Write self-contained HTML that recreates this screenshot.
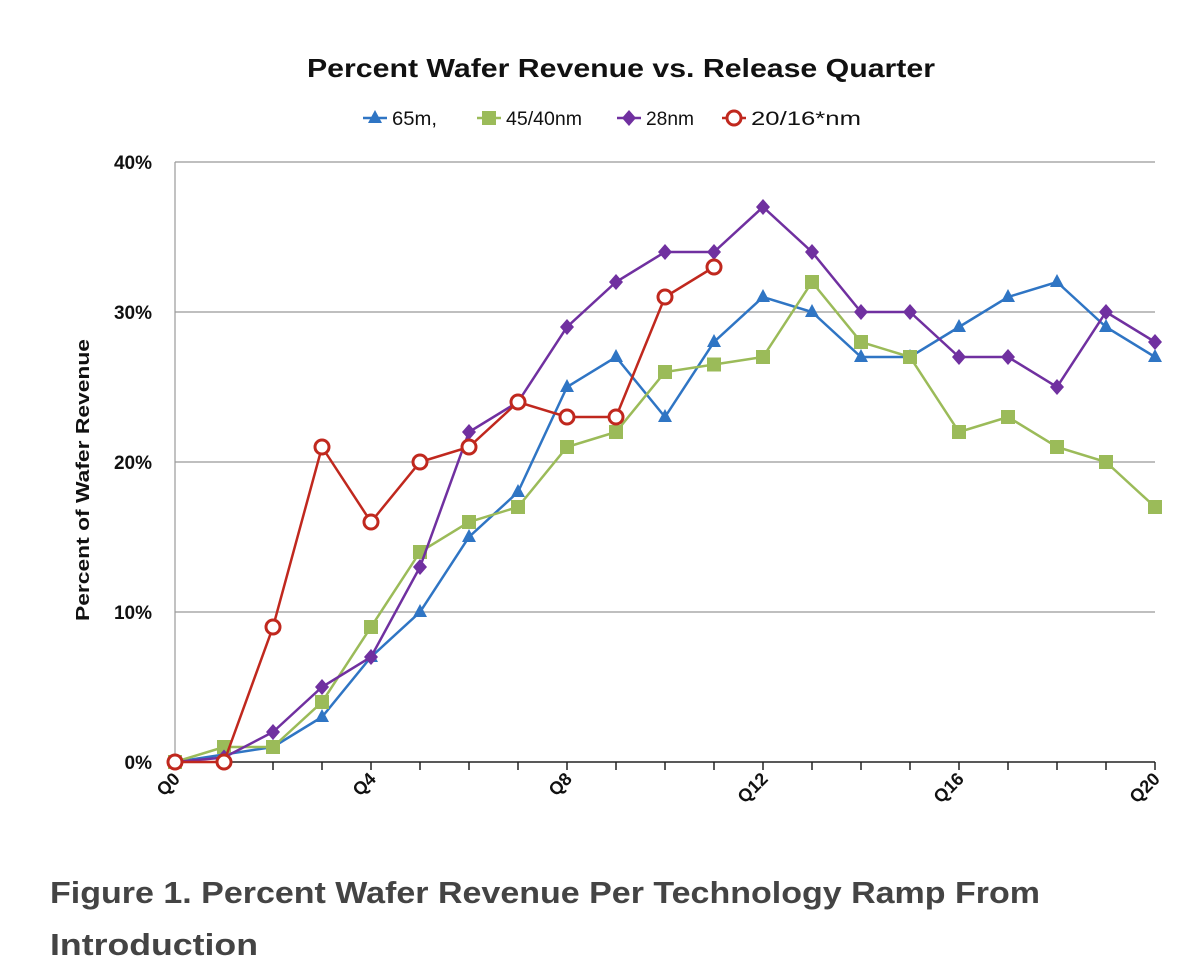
<!DOCTYPE html>
<html><head><meta charset="utf-8"><style>
body{margin:0;background:#fff;width:1200px;height:972px;overflow:hidden;font-family:"Liberation Sans",sans-serif}
</style></head><body>
<svg width="1200" height="972" id="c">
<text x="307" y="77" textLength="628" lengthAdjust="spacingAndGlyphs" font-size="26" font-weight="bold" fill="#111">Percent Wafer Revenue vs. Release Quarter</text>
<g id="legend"></g>
<text transform="translate(89,480) rotate(-90)" text-anchor="middle" textLength="282" lengthAdjust="spacingAndGlyphs" font-size="18" font-weight="bold" fill="#111">Percent of Wafer Revenue</text>
<g id="grid"></g><g id="axes"></g><g id="series"></g>
<text x="50" y="903" textLength="990" lengthAdjust="spacingAndGlyphs" font-size="31" font-weight="bold" fill="#444">Figure 1. Percent Wafer Revenue Per Technology Ramp From</text>
<text x="50" y="955" textLength="208" lengthAdjust="spacingAndGlyphs" font-size="31" font-weight="bold" fill="#444">Introduction</text>
</svg>
<script>
const categories=["Q0","Q1","Q2","Q3","Q4","Q5","Q6","Q7","Q8","Q9","Q10","Q11","Q12","Q13","Q14","Q15","Q16","Q17","Q18","Q19","Q20"];
const yTicks=[0,10,20,30,40];
const s65=[0,0.5,1,3,7,10,15,18,25,27,23,28,31,30,27,27,29,31,32,29,27];
const s45=[0,1,1,4,9,14,16,17,21,22,26,26.5,27,32,28,27,22,23,21,20,17];
const s28=[0,0.3,2,5,7,13,22,24,29,32,34,34,37,34,30,30,27,27,25,30,28];
const s20=[0,0,9,21,16,20,21,24,23,23,31,33];
const seriesNames=["65m,","45/40nm","28nm","20/16*nm"];
const NS="http://www.w3.org/2000/svg";
const x=i=>175+i*(980/(categories.length-1));
const y=v=>762-v*15;
function mk(p,t,a){const e=document.createElementNS(NS,t);for(const k in a)e.setAttribute(k,a[k]);p.appendChild(e);return e;}
const grid=document.getElementById('grid'),axes=document.getElementById('axes'),ser=document.getElementById('series'),leg=document.getElementById('legend');
yTicks.forEach(v=>{
 if(v>0){const l=mk(grid,'line',{x1:175,x2:1155,y1:y(v),y2:y(v),stroke:'#999','stroke-width':1.2});
 }
 const t=mk(axes,'text',{x:152,y:y(v)+7,'text-anchor':'end','font-size':19,'font-weight':'bold',fill:'#111'});t.textContent=v+'%';
 
});
const ya=mk(axes,'line',{x1:175,x2:175,y1:y(40),y2:y(0),stroke:'#999','stroke-width':1.2});

const xa=mk(axes,'line',{x1:175,x2:1155,y1:762,y2:762,stroke:'#222','stroke-width':1.5});

categories.forEach((c,i)=>{
 const tk=mk(axes,'line',{x1:x(i),x2:x(i),y1:762,y2:770,stroke:'#222','stroke-width':1.5});
 
 if(i%4===0){const t=mk(axes,'text',{transform:`translate(${x(i)+6},${780}) rotate(-45)`,'text-anchor':'end','font-size':18,'font-weight':'bold',fill:'#111'});t.textContent=c;
 }
});
function marker(g,kind,cx,cy,col){
 if(kind==='tri')return mk(g,'polygon',{points:`${cx},${cy-8} ${cx-7},${cy+5} ${cx+7},${cy+5}`,fill:col});
 if(kind==='sq')return mk(g,'rect',{x:cx-7,y:cy-7,width:14,height:14,fill:col});
 if(kind==='dia')return mk(g,'polygon',{points:`${cx},${cy-8} ${cx+7},${cy} ${cx},${cy+8} ${cx-7},${cy}`,fill:col});
 return mk(g,'circle',{cx:cx,cy:cy,r:7,fill:'#fff',stroke:col,'stroke-width':3});
}
const defs=[[s65,'#2f75c4','tri','series-65nm'],[s45,'#9bbb59','sq','series-45-40nm'],[s28,'#7030a0','dia','series-28nm'],[s20,'#c0281e','circ','series-20-16nm']];
defs.forEach(([d,col,k,n])=>{
 const g=mk(ser,'g',{});
 mk(g,'polyline',{points:d.map((v,i)=>x(i)+','+y(v)).join(' '),fill:'none',stroke:col,'stroke-width':2.5});
 d.forEach((v,i)=>{const m=marker(g,k,x(i),y(v),col);});
});
const lx=[363,477,617,722];
const lw=[45,76,48,110];
defs.forEach(([d,col,k,n],i)=>{
 const g=mk(leg,'g',{});
 mk(g,'line',{x1:lx[i],x2:lx[i]+24,y1:118,y2:118,stroke:col,'stroke-width':2.5});
 marker(g,k,lx[i]+12,118,col);
 const t=mk(g,'text',{x:lx[i]+29,y:125,'font-size':19,fill:'#111',textLength:lw[i],lengthAdjust:'spacingAndGlyphs'});t.textContent=seriesNames[i];
});
</script>
</body></html>
